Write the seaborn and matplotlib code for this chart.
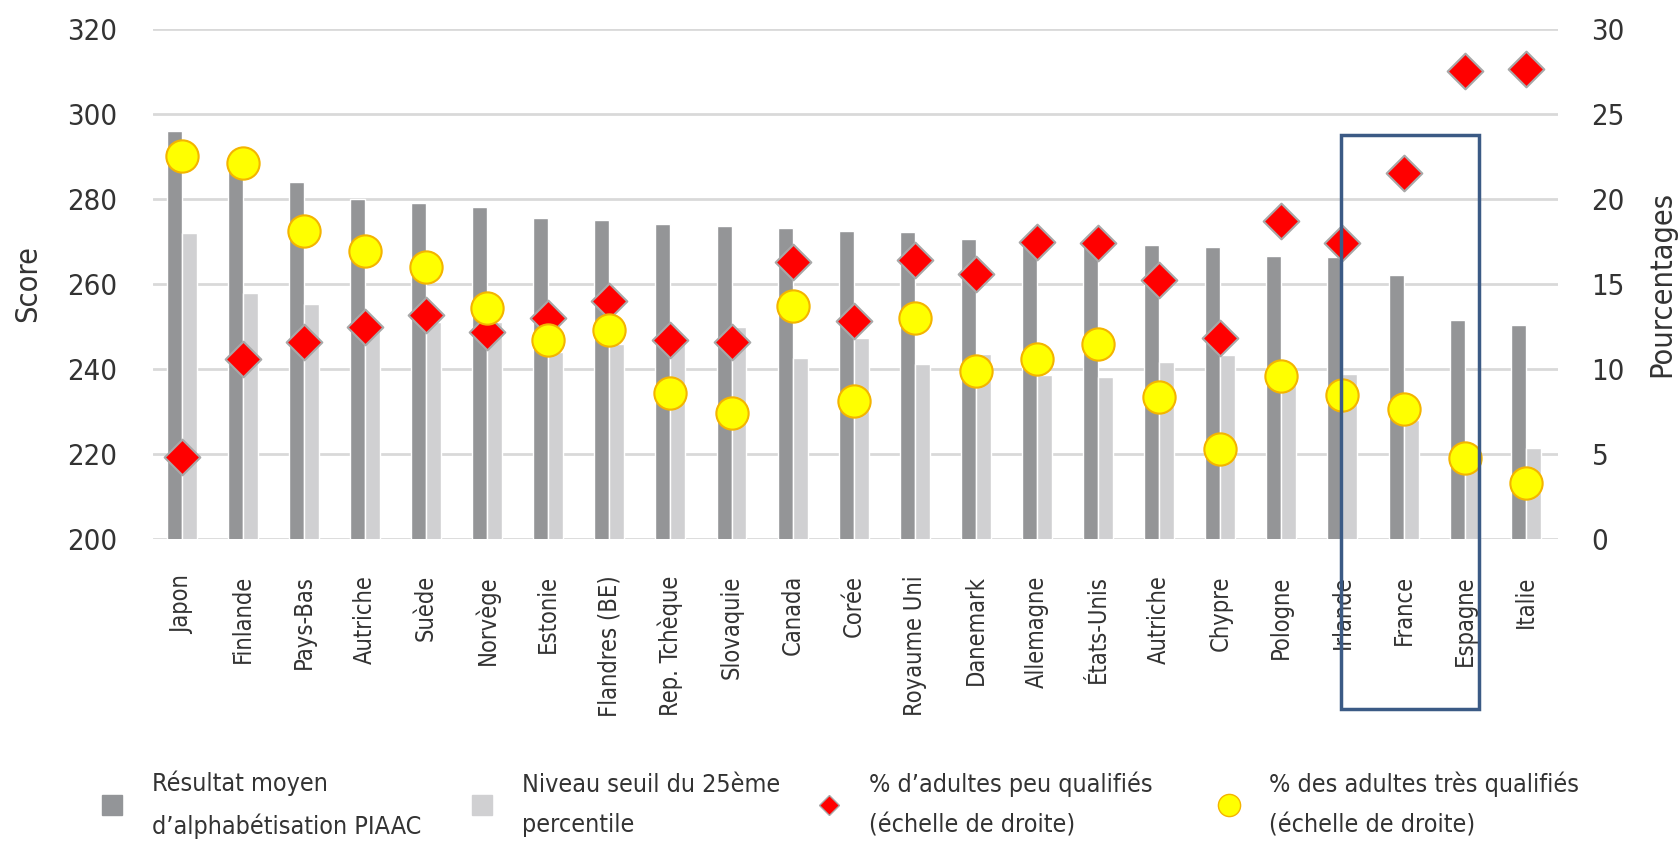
import numpy as np
import pandas as pd
import matplotlib
matplotlib.use("Agg")
import matplotlib.pyplot as plt
import seaborn as sns
from matplotlib.lines import Line2D
from matplotlib.patches import Rectangle

# =====================================
# Data
# =====================================

pays = ["Japon", "Finlande", "Pays-Bas", "Autriche", "Suède", "Norvège", "Estonie",
        "Flandres (BE)", "Rep. Tchèque", "Slovaquie", "Canada", "Corée", "Royaume Uni",
        "Danemark", "Allemagne", "États-Unis", "Autriche", "Chypre", "Pologne",
        "Irlande", "France", "Espagne", "Italie"]

score_moyen = [296, 288, 284, 280, 279, 278, 275.5, 275, 274, 273.7, 273.2, 272.4,
               272.2, 270.6, 270, 270, 269.2, 268.6, 266.6, 266.3, 262, 251.6, 250.3]

seuil_p25 = [272, 258, 255.4, 250, 251, 251, 244, 246, 248, 250, 242.5, 247.4,
             241.1, 243.6, 238.6, 238.2, 241.6, 243.3, 239, 238.9, 228, 220, 221.5]

peu_qualifies = [4.8, 10.6, 11.6, 12.5, 13.2, 12.2, 13.0, 14.0, 11.7, 11.6, 16.3, 12.8,
                 16.4, 15.6, 17.45, 17.4, 15.25, 11.8, 18.7, 17.4, 21.5, 27.5, 27.65]

tres_qualifies = [22.5, 22.1, 18.1, 16.95, 16.0, 13.6, 11.7, 12.3, 8.6, 7.4, 13.7, 8.1,
                  13.0, 9.9, 10.6, 11.5, 8.35, 5.3, 9.6, 8.45, 7.65, 4.75, 3.3]

lbl_moyen = "Résultat moyen\nd’alphabétisation PIAAC"
lbl_seuil = "Niveau seuil du 25ème\npercentile"
lbl_peu = "% d’adultes peu qualifiés\n(échelle de droite)"
lbl_tres = "% des adultes très qualifiés\n(échelle de droite)"

# colours
dark_grey = "#939598"
light_grey = "#d0d0d2"
red = "#ff0000"
yellow = "#ffff00"
text_col = "#333333"

# =====================================
# Build tables
# =====================================

pos = list(range(len(pays)))
bars = pd.DataFrame({"pos": pos, lbl_moyen: score_moyen, lbl_seuil: seuil_p25})
bars = bars.melt(id_vars="pos", var_name="serie", value_name="score")
pts = pd.DataFrame({"pos": pos, "peu": peu_qualifies, "tres": tres_qualifies})

# =====================================
# Plot
# =====================================

sns.set_theme(style="white")
plt.rcParams["font.family"] = ["DejaVu Sans"]
plt.rcParams["font.stretch"] = "condensed"

fig = plt.figure(figsize=(16.79, 8.47), dpi=100)
ax = fig.add_axes([0.0911, 0.3636, 0.8369, 0.6022])

sns.barplot(data=bars, x="pos", y="score", hue="serie",
            palette=[dark_grey, light_grey], width=0.49, ax=ax,
            legend=False, zorder=2)

ax.set_ylim(200, 320)
ax.set_yticks(range(200, 321, 20))
ax.yaxis.grid(True, color="#d9d9d9", linewidth=2, zorder=0)
ax.set_axisbelow(True)
for s in ax.spines.values():
    s.set_visible(False)
ax.set_xticks(pos)
ax.set_xticklabels(pays, rotation=90, fontsize=17, color=text_col)
ax.tick_params(axis="x", length=0, pad=26)
ax.tick_params(axis="y", length=0, pad=26, labelsize=21, labelcolor=text_col)
ax.set_xlabel("")
ax.set_ylabel("Score", fontsize=22, color=text_col, labelpad=18)

ax2 = ax.twinx()
sns.scatterplot(data=pts, x="pos", y="peu", marker="D", s=330, color=red,
                edgecolor="#a8a8a8", linewidth=1.5, ax=ax2, zorder=3)
sns.scatterplot(data=pts, x="pos", y="tres", marker="o", s=540, color=yellow,
                edgecolor="#f4b400", linewidth=1.5, ax=ax2, zorder=4)
ax2.set_ylim(0, 30)
ax2.set_yticks(range(0, 31, 5))
for s in ax2.spines.values():
    s.set_visible(False)
ax2.tick_params(axis="y", length=0, pad=24, labelsize=21, labelcolor=text_col)
ax2.set_ylabel("Pourcentages", fontsize=22, color=text_col, labelpad=16)
ax2.set_xlabel("")
ax2.grid(False)
ax.set_xlim(-0.47, len(pays) - 0.47)

# highlight box around Irlande / France / Espagne
fig.add_artist(Rectangle((0.7987, 0.1629), 0.0822, 0.6777, transform=fig.transFigure,
                         fill=False, edgecolor="#3b5a85", linewidth=2.5))

# legend: one block per entry, placed along the bottom
handles = [
    Line2D([], [], marker="s", linestyle="", markersize=15, color=dark_grey),
    Line2D([], [], marker="s", linestyle="", markersize=15, color=light_grey),
    Line2D([], [], marker="D", linestyle="", markersize=10, color=red,
           markeredgecolor="#a8a8a8"),
    Line2D([], [], marker="o", linestyle="", markersize=16, color=yellow,
           markeredgecolor="#f4b400"),
]
labels = [lbl_moyen, lbl_seuil, lbl_peu, lbl_tres]
leg_x = [0.052, 0.272, 0.479, 0.717]
for h, l, x in zip(handles, labels, leg_x):
    leg = fig.legend([h], [l], loc="center left", bbox_to_anchor=(x, 0.05),
                     frameon=False, fontsize=18, labelcolor=text_col,
                     handletextpad=1.0, handlelength=1.2, borderaxespad=0)
    for t in leg.get_texts():
        t.set_linespacing(1.85)

fig.savefig("out.png", dpi=100)
